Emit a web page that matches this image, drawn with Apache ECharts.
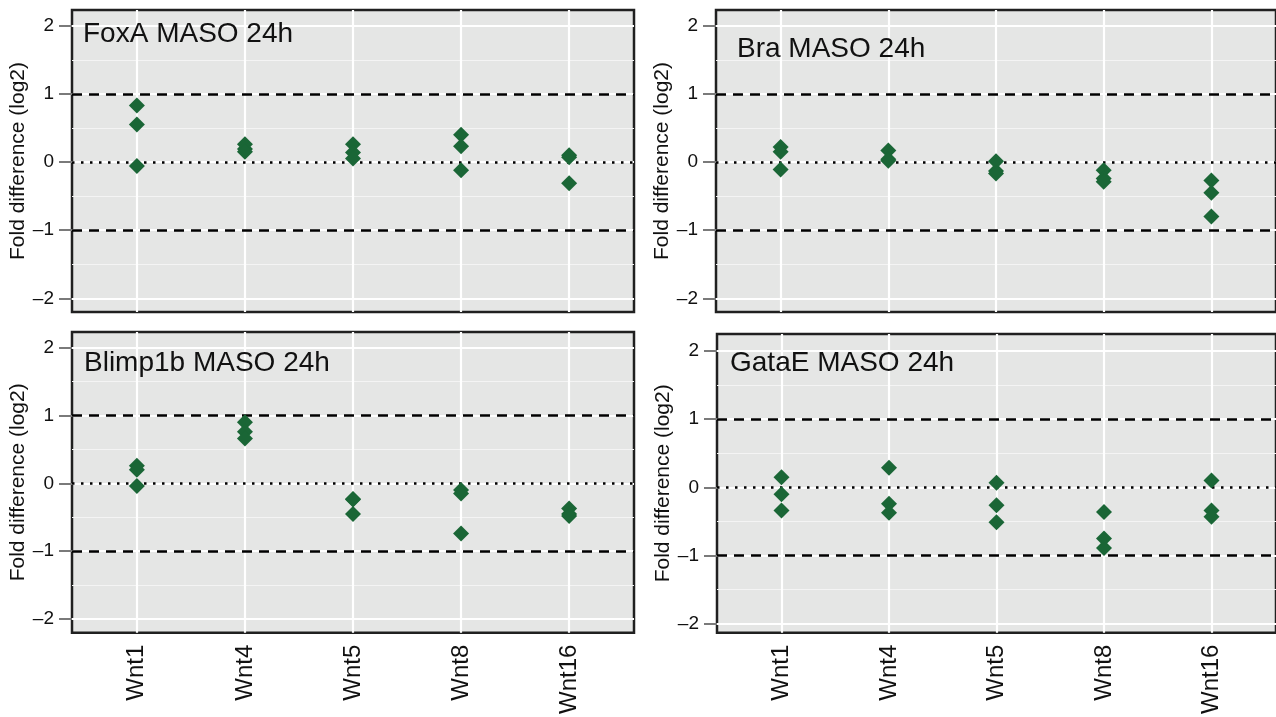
<!DOCTYPE html>
<html>
<head>
<meta charset="utf-8">
<title>MASO 24h fold difference</title>
<script src="https://cdn.jsdelivr.net/npm/echarts@6/dist/echarts.min.js"></script>
<style>
  html, body { margin: 0; padding: 0; background: #fff; }
  #chart { width: 1276px; height: 717px; }
</style>
</head>
<body>
<div id="chart"></div>
<script>
// 基因（x轴分类）
const genes = ['Wnt1', 'Wnt4', 'Wnt5', 'Wnt8', 'Wnt16'];
// 每个面板的标题
const panelTitles = ['FoxA MASO 24h', 'Bra MASO 24h', 'Blimp1b MASO 24h', 'GataE MASO 24h'];
// 各面板数值 (log2)，每个基因三次重复
const foxaValues = [[0.83, 0.55, -0.06], [0.26, 0.19, 0.15], [0.26, 0.14, 0.05], [0.40, 0.23, -0.12], [0.10, 0.07, -0.31]];
const braValues = [[0.22, 0.15, -0.11], [0.17, 0.04, 0.02], [0.01, -0.13, -0.17], [-0.12, -0.24, -0.29], [-0.27, -0.45, -0.80]];
const blimpValues = [[0.26, 0.20, -0.04], [0.90, 0.76, 0.66], [-0.23, -0.24, -0.45], [-0.10, -0.15, -0.74], [-0.37, -0.45, -0.48]];
const gataValues = [[0.15, -0.10, -0.34], [0.29, -0.24, -0.37], [0.07, -0.26, -0.51], [-0.36, -0.75, -0.89], [0.10, -0.34, -0.43]];
// 坐标刻度
const yTicks = [-2, -1, 0, 1, 2];
const yMinor = [-1.5, -0.5, 0.5, 1.5];
const xTicks = [1, 2, 3, 4, 5];
// 参考线
const dashedRefs = [-1, 1];
const dottedRefs = [0];

const FONT = '"Liberation Sans", Arial, Helvetica, sans-serif';
const GREEN = '#1a6636';

// 面板布局
const panels = [
  { values: foxaValues, grid: { left: 72, top: 10, width: 562, height: 302 }, yMin: -2.2, yMax: 2.23, titlePos: [83, 20], showX: false },
  { values: braValues, grid: { left: 716, top: 10, width: 562, height: 302 }, yMin: -2.2, yMax: 2.23, titlePos: [737, 35], showX: false },
  { values: blimpValues, grid: { left: 72, top: 332, width: 562, height: 303 }, yMin: -2.2, yMax: 2.23, titlePos: [84, 349], showX: true },
  { values: gataValues, grid: { left: 717, top: 334, width: 562, height: 301 }, yMin: -2.13, yMax: 2.25, titlePos: [730, 349], showX: true }
];

const chart = echarts.init(document.getElementById('chart'));

let grids = [], xAxes = [], yAxes = [], series = [], titles = [];
panels.forEach((p, i) => {
  grids.push(Object.assign({
    show: true,
    backgroundColor: '#e5e6e5',
    borderColor: '#202020',
    borderWidth: 2.5
  }, p.grid));
  titles.push({
    text: panelTitles[i],
    left: p.titlePos[0],
    top: p.titlePos[1],
    padding: 0,
    textStyle: { fontFamily: FONT, fontSize: 28, fontWeight: 'normal', color: '#111' }
  });
  xAxes.push({
    type: 'value',
    gridIndex: i,
    min: 0.4,
    max: 5.6,
    axisLine: { show: false },
    splitLine: { show: false },
    axisTick: { customValues: xTicks, inside: true, length: 7, lineStyle: { color: '#7a7a7a', width: 2 } },
    axisLabel: {
      show: p.showX,
      customValues: xTicks,
      formatter: v => genes[v - 1] || '',
      rotate: 90,
      margin: 12,
      fontFamily: FONT,
      fontSize: 24,
      color: '#111'
    }
  });
  yAxes.push({
    type: 'value',
    gridIndex: i,
    min: p.yMin,
    max: p.yMax,
    name: 'Fold difference (log2)',
    nameLocation: 'middle',
    nameGap: 40,
    nameTextStyle: { fontFamily: FONT, fontSize: 21, color: '#111' },
    axisLine: { show: false },
    splitLine: { show: false },
    axisTick: { customValues: yTicks, length: 13, lineStyle: { color: '#7a7a7a', width: 2 } },
    axisLabel: {
      customValues: yTicks,
      formatter: v => String(v).replace('-', '\u2013'),
      margin: 18,
      fontFamily: FONT,
      fontSize: 19,
      color: '#111'
    }
  });

  const markBase = { silent: true, symbol: 'none', animation: false, label: { show: false } };
  // 网格线（白色）
  series.push({
    type: 'scatter',
    xAxisIndex: i,
    yAxisIndex: i,
    data: [],
    z: 1,
    markLine: Object.assign({}, markBase, {
      z: 1,
      data: [
        ...yMinor.map(v => ({ yAxis: v, lineStyle: { color: '#f4f4f4', width: 1.2, type: 'solid' } })),
        ...yTicks.map(v => ({ yAxis: v, lineStyle: { color: '#ffffff', width: 2.2, type: 'solid' } })),
        ...xTicks.map(v => ({ xAxis: v, lineStyle: { color: '#ffffff', width: 2.2, type: 'solid' } }))
      ]
    })
  });
  // 参考线
  series.push({
    type: 'scatter',
    xAxisIndex: i,
    yAxisIndex: i,
    data: [],
    z: 2,
    markLine: Object.assign({}, markBase, {
      z: 2,
      data: [
        ...dashedRefs.map(v => ({ yAxis: v, lineStyle: { color: '#000', width: 2.5, type: [10, 7] } })),
        ...dottedRefs.map(v => ({ yAxis: v, lineStyle: { color: '#000', width: 2.5, type: [2.5, 6.5] } }))
      ]
    })
  });
  // 数据点
  let pts = [];
  p.values.forEach((vals, gi) => vals.forEach(v => pts.push([xTicks[gi], v])));
  series.push({
    type: 'scatter',
    xAxisIndex: i,
    yAxisIndex: i,
    z: 10,
    symbol: 'diamond',
    symbolSize: [16, 16],
    itemStyle: { color: GREEN, opacity: 1 },
    data: pts
  });
});

chart.setOption({
  animation: false,
  backgroundColor: '#fff',
  title: titles,
  grid: grids,
  xAxis: xAxes,
  yAxis: yAxes,
  series: series
});
</script>
</body>
</html>
